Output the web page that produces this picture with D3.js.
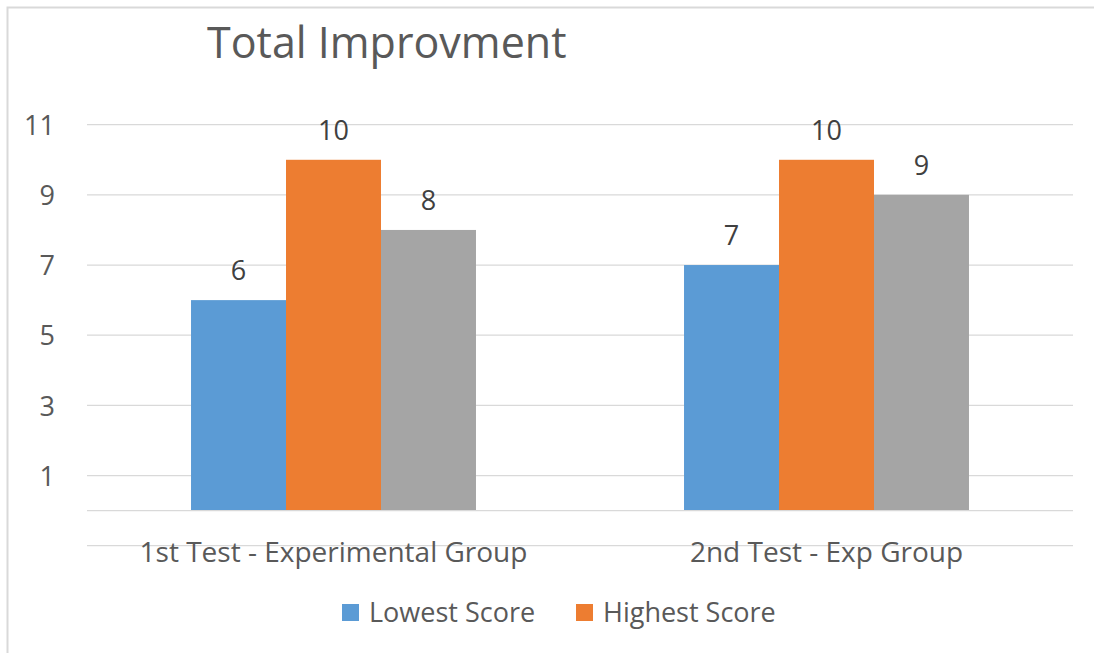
<!DOCTYPE html>
<html>
<head>
<meta charset="utf-8">
<script src="https://cdn.jsdelivr.net/npm/d3@7"></script>
<style>
  html, body { margin: 0; padding: 0; background: #ffffff; }
  text { font-family: "Open Sans", "Noto Sans", sans-serif; fill: #595959; }
</style>
</head>
<body>
<svg id="chart" width="1094" height="653"></svg>
<script>
var v_Categories = ["1st Test - Experimental Group", "2nd Test - Exp Group"];
var v_Series     = ["Lowest Score", "Highest Score", "Third Score"];
var v_Legend     = ["Lowest Score", "Highest Score"];
var v_Lowest     = [6, 7];
var v_Highest    = [10, 10];
var v_Third      = [8, 9];
var v_YTicks     = [1, 3, 5, 7, 9, 11];
var v_GridTicks  = [-1, 1, 3, 5, 7, 9, 11];
var v_Colors     = ["#5B9BD5", "#ED7D31", "#A5A5A5"];
var v_Title      = "Total Improvment";

var v_Values = [v_Lowest, v_Highest, v_Third];

function drawChart()
{
    let v_SVG = d3.select("#chart");

    // 外框
    v_SVG.append("path")
        .attr("d", "M7.5,653 L7.5,7.5 L1094,7.5")
        .attr("fill", "none")
        .attr("stroke", "#D9D9D9")
        .attr("stroke-width", 2);

    let v_Left   = 87;
    let v_Right  = 1073;
    let v_Y = d3.scaleLinear().domain([-1, 11]).range([545.7, 124.7]);

    let v_X0 = d3.scaleBand()
        .domain(v_Categories)
        .range([v_Left, v_Right])
        .paddingInner(0.422)
        .paddingOuter(0.211);

    let v_X1 = d3.scaleBand()
        .domain(v_Series)
        .range([0, v_X0.bandwidth()]);

    // 网格线
    v_SVG.append("g")
        .selectAll("line")
        .data(v_GridTicks)
        .join("line")
        .attr("x1", v_Left)
        .attr("x2", v_Right)
        .attr("y1", d => v_Y(d))
        .attr("y2", d => v_Y(d))
        .attr("stroke", "#D9D9D9")
        .attr("stroke-width", 1.3);

    // Y轴标签
    let v_YAxis = d3.axisLeft(v_Y).tickValues(v_YTicks).tickSize(0).tickPadding(0);
    let v_YG = v_SVG.append("g")
        .attr("transform", "translate(55,0)")
        .call(v_YAxis);
    v_YG.select(".domain").remove();
    v_YG.selectAll("text")
        .attr("font-size", 27)
        .attr("fill", "#595959")
        .attr("font-family", null)
        .attr("dy", "0.36em");

    // 柱子
    let v_Groups = v_SVG.append("g")
        .selectAll("g")
        .data(v_Categories)
        .join("g")
        .attr("transform", d => "translate(" + v_X0(d) + ",0)");

    v_Groups.selectAll("rect")
        .data((d, i) => v_Series.map((s, k) => ({ series: s, k: k, value: v_Values[k][i] })))
        .join("rect")
        .attr("x", d => v_X1(d.series))
        .attr("width", v_X1.bandwidth())
        .attr("y", d => v_Y(d.value))
        .attr("height", d => v_Y(0) - v_Y(d.value))
        .attr("fill", d => v_Colors[d.k]);

    v_Groups.selectAll("text.label")
        .data((d, i) => v_Series.map((s, k) => ({ series: s, k: k, value: v_Values[k][i] })))
        .join("text")
        .attr("class", "label")
        .attr("x", d => v_X1(d.series) + v_X1.bandwidth() / 2)
        .attr("y", d => v_Y(d.value) - 20)
        .attr("text-anchor", "middle")
        .attr("font-size", 27)
        .style("fill", "#404040")
        .text(d => d.value);

    // X轴线
    v_SVG.append("line")
        .attr("x1", v_Left)
        .attr("x2", v_Right)
        .attr("y1", v_Y(0))
        .attr("y2", v_Y(0))
        .attr("stroke", "#D9D9D9")
        .attr("stroke-width", 1.3);

    // 分类标签
    v_SVG.append("g")
        .selectAll("text")
        .data(v_Categories)
        .join("text")
        .attr("x", d => v_X0(d) + v_X0.bandwidth() / 2)
        .attr("y", 562)
        .attr("text-anchor", "middle")
        .attr("font-size", 28)
        .text(d => d);

    // 标题
    v_SVG.append("text")
        .attr("x", 207)
        .attr("y", 58)
        .attr("font-size", 43)
        .text(v_Title);

    // 图例
    let v_LegendX = [342, 576];
    let v_Leg = v_SVG.append("g")
        .selectAll("g")
        .data(v_Legend)
        .join("g")
        .attr("transform", (d, i) => "translate(" + v_LegendX[i] + ",604)");
    v_Leg.append("rect")
        .attr("width", 17)
        .attr("height", 17)
        .attr("fill", (d, i) => v_Colors[i]);
    v_Leg.append("text")
        .attr("x", 27)
        .attr("y", 18)
        .attr("font-size", 27)
        .text(d => d);
}

drawChart();
</script>
</body>
</html>
